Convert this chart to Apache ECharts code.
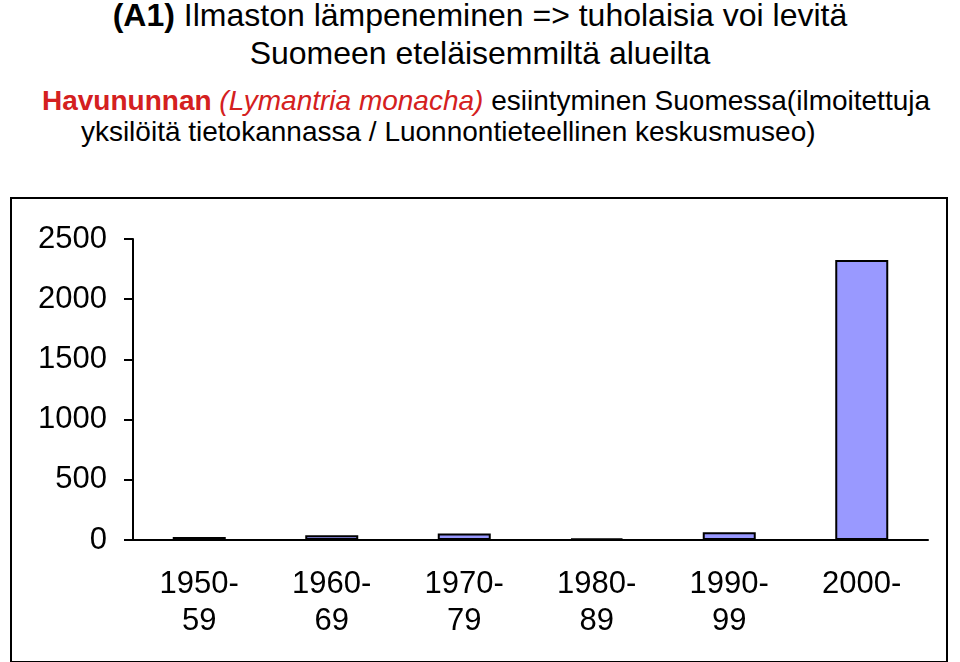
<!DOCTYPE html>
<html><head><meta charset="utf-8">
<script src="https://cdn.jsdelivr.net/npm/echarts@6/dist/echarts.min.js"></script>
<style>
body{margin:0;background:#fff;font-family:Arial,"Liberation Sans",sans-serif}
#t1{position:absolute;left:0;width:960px;top:-4px;text-align:center;font-size:32px;line-height:38px;color:#000;white-space:nowrap}
#t2{position:absolute;left:42px;top:85px;font-size:28px;line-height:31px;color:#000;white-space:nowrap}
#box{position:absolute;left:10px;top:197px;width:934px;height:462px;border:2px solid #000}
#pic{position:absolute;left:0;top:0;width:960px;height:662px}
</style></head><body>
<div id="t1"><b>(A1)</b> Ilmaston lämpeneminen =&gt; tuholaisia voi levitä<br>Suomeen eteläisemmiltä alueilta</div>
<div id="t2"><b style="color:#d42020">Havununnan</b> <i style="color:#d42020">(Lymantria monacha)</i> esiintyminen Suomessa(ilmoitettuja<br>&nbsp;&nbsp;&nbsp;&nbsp;&nbsp;yksilöitä tietokannassa / Luonnontieteellinen keskusmuseo)</div>
<div id="box"></div>
<div id="pic"></div>
<script>
var decades = ['1950-\n59', '1960-\n69', '1970-\n79', '1980-\n89', '1990-\n99', '2000-'];
var counts = [25, 40, 55, 12, 65, 2325];

var myChart = echarts.init(document.getElementById('pic'));
myChart.setOption({
    animation: false,
    grid: {left: 133, right: 32, top: 239, bottom: 122},
    xAxis: {
        type: 'category',
        data: decades,
        axisLine: {lineStyle: {color: '#000', width: 2}},
        axisTick: {length: 9, lineStyle: {color: '#000', width: 2}},
        axisLabel: {color: '#000', fontSize: 31, margin: 26, lineHeight: 37, fontFamily: 'Arial'}
    },
    yAxis: {
        type: 'value',
        min: 0, max: 2500, interval: 500,
        splitLine: {show: false},
        axisLine: {show: true, lineStyle: {color: '#000', width: 2}},
        axisTick: {show: true, length: 9, lineStyle: {color: '#000', width: 2}},
        axisLabel: {color: '#000', fontSize: 31, margin: 26, fontFamily: 'Arial',
            formatter: function (v) { return String(v); }}
    },
    series: [{
        type: 'bar',
        data: counts,
        barWidth: '40%',
        itemStyle: {color: '#9999ff', borderColor: '#000', borderWidth: 2}
    }]
});
</script>
</body></html>
